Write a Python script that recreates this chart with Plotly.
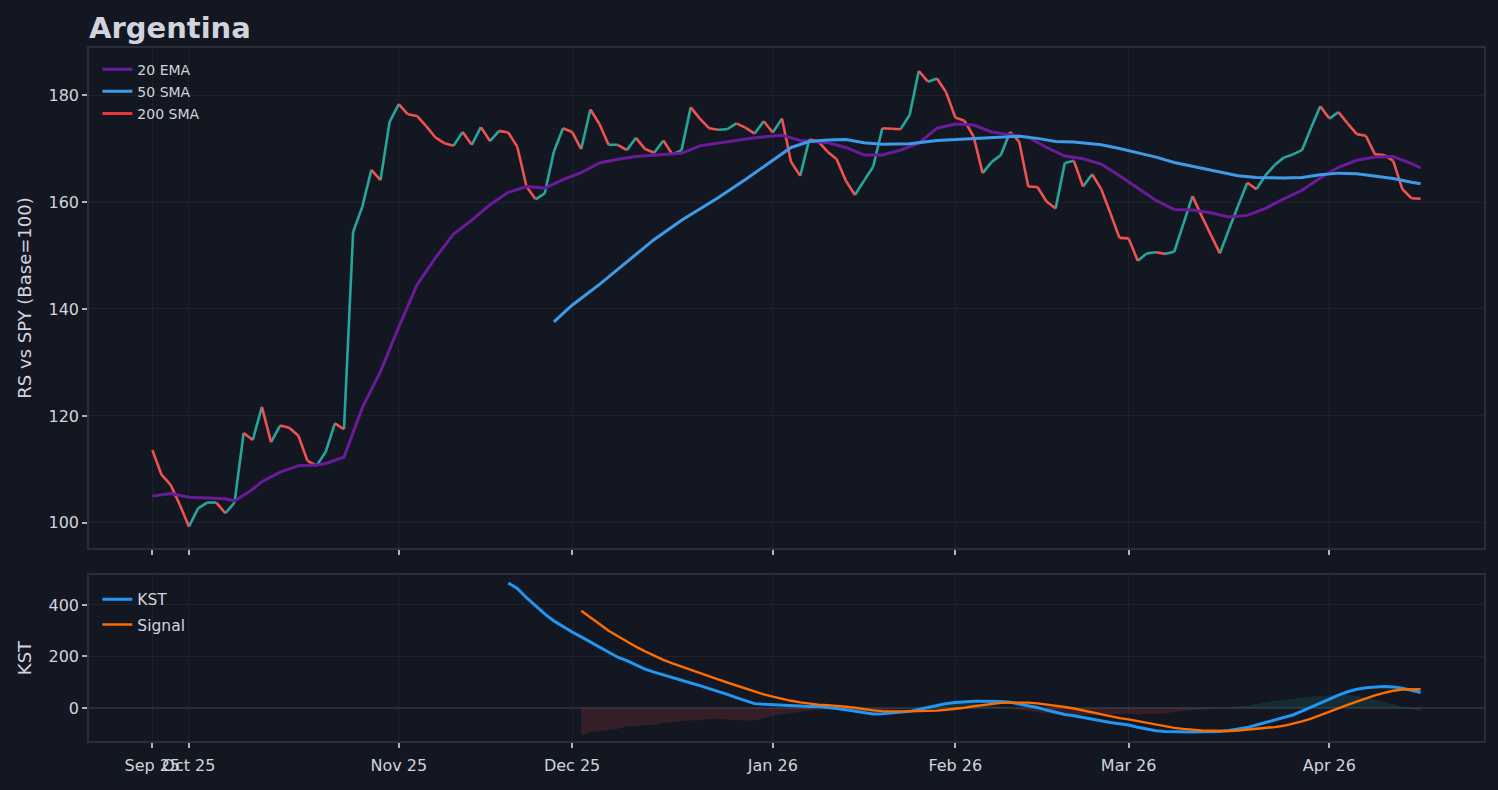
import plotly.graph_objects as go

BG = "#131722"
TEXT = "#d1d4dc"
GRID = "#1e222d"
FRAME = "#2a2e39"
TICK = "#b2b5be"
UP = "#26a69a"
DOWN = "#ef5350"

# trading-day index of each month start, and its label
month_pos = [0, 4, 27, 46, 68, 88, 107, 129]
month_labels = ["Sep 25", "Oct 25", "Nov 25", "Dec 25", "Jan 26", "Feb 26", "Mar 26", "Apr 26"]

# relative strength vs SPY, one value per trading day
price = [
    113.6, 109.0, 107.1, 103.4, 99.3, 102.7, 103.8, 103.8, 101.8, 103.8,
    116.8, 115.5, 121.7, 115.1, 118.2, 117.8, 116.3, 111.6, 110.7, 113.3,
    118.6, 117.5, 154.4, 159.1, 166.0, 164.1, 175.0, 178.3, 176.4, 176.1,
    174.2, 172.1, 171.0, 170.5, 173.1, 170.7, 174.0, 171.4, 173.3, 173.0,
    170.3, 162.9, 160.5, 161.6, 169.4, 173.8, 173.1, 169.9, 177.3, 174.6,
    170.7, 170.7, 169.7, 172.0, 169.9, 169.2, 171.5, 168.9, 169.7, 177.7,
    175.6, 173.8, 173.5, 173.6, 174.7, 173.9, 172.8, 175.1, 173.0, 175.6,
    167.5, 164.9, 171.7, 171.3, 169.4, 168.0, 164.0, 161.3, 164.0, 166.6,
    173.8, 173.7, 173.6, 176.3, 184.5, 182.5, 183.1, 180.5, 175.8, 175.2,
    172.3, 165.4, 167.5, 168.8, 173.1, 171.3, 162.9, 162.8, 160.1, 158.8,
    167.3, 167.7, 162.9, 165.2, 162.4, 157.9, 153.3, 153.2, 149.0, 150.4,
    150.6, 150.3, 150.7, 155.9, 161.1, 157.4, 153.9, 150.4, 154.9, 159.3,
    163.6, 162.4, 165.0, 166.9, 168.3, 168.9, 169.7, 173.9, 177.9, 175.6,
    176.8, 174.7, 172.7, 172.4, 168.9, 168.8, 167.7, 162.4, 160.7, 160.6,
]

ema_idx = [0, 2, 4, 8, 9, 11, 12, 14, 16, 18, 19, 21, 23, 25, 27, 29, 31, 33, 35, 37,
           39, 41, 43, 45, 47, 49, 51, 53, 56, 58, 60, 63, 66, 69, 71, 74, 76, 78, 80, 82,
           84, 86, 88, 90, 92, 94, 96, 98, 100, 102, 104, 106, 108, 110, 112, 114, 116, 118, 120, 122,
           124, 126, 128, 130, 132, 134, 136, 138, 139]
ema = [105.0, 105.5, 104.8, 104.5, 104.1, 106.3, 107.7, 109.5, 110.7, 110.8, 111.1, 112.3, 121.5, 128.3, 136.6, 144.5, 149.5, 154.0, 156.6, 159.5,
       161.8, 162.9, 162.6, 164.2, 165.5, 167.3, 168.0, 168.5, 168.9, 169.1, 170.5, 171.3, 172.0, 172.5, 171.5, 171.1, 170.2, 168.8, 168.8, 169.7,
       171.0, 173.8, 174.6, 174.4, 173.1, 172.6, 172.1, 170.2, 168.6, 168.1, 167.1, 164.9, 162.6, 160.3, 158.6, 158.5, 158.0, 157.2, 157.5, 158.8,
       160.6, 162.2, 164.5, 166.5, 167.8, 168.4, 168.5, 167.2, 166.4]

sma_idx = [44, 46, 49, 52, 55, 58, 60, 62, 65, 68, 70, 72, 74, 76, 78, 80, 83, 86, 89, 92,
           95, 97, 99, 101, 104, 106, 108, 110, 112, 115, 117, 119, 121, 124, 126, 128, 130, 132, 134, 136,
           138, 139]
sma = [137.6, 140.7, 144.6, 148.8, 153.0, 156.6, 158.7, 160.8, 164.2, 167.8, 170.2, 171.3, 171.6, 171.7, 171.1, 170.8, 170.9, 171.5, 171.8, 172.0,
       172.3, 171.9, 171.3, 171.2, 170.7, 170.0, 169.2, 168.4, 167.4, 166.4, 165.6, 164.9, 164.6, 164.5, 164.6, 165.1, 165.4, 165.3, 164.9, 164.4,
       163.7, 163.4]

kst_start = 39
kst = [
    485, 464, 428, 395, 365, 338, 316, 295, 276, 256,
    236, 214, 197, 184, 168, 151, 139, 128, 118, 107,
    97, 87, 76, 66, 53, 40, 28, 17, 15, 13,
    11, 8, 7, 6, 6, 3, -2, -7, -12, -18,
    -23, -22, -19, -16, -13, -6, 2, 10, 17, 21,
    24, 26, 26, 26, 25, 22, 16, 9, 2, -8,
    -17, -25, -30, -37, -43, -50, -56, -61, -66, -75,
    -82, -88, -91, -92, -93, -93, -92, -92, -91, -87,
    -82, -76, -66, -56, -47, -39, -27, -12, 4, 20,
    36, 50, 63, 73, 79, 82, 83, 82, 77, 69,
    60,
]

signal_start = 47
signal = [
    377, 350, 326, 300, 279, 258, 238, 220, 203, 187,
    173, 160, 147, 135, 123, 111, 99, 87, 74, 63,
    53, 44, 35, 28, 22, 17, 13, 11, 9, 5,
    1, -5, -9, -12, -13, -13, -13, -12, -12, -10,
    -7, -4, 1, 7, 12, 17, 20, 21, 21, 21,
    18, 14, 9, 4, -2, -10, -18, -26, -33, -39,
    -44, -51, -58, -65, -71, -77, -81, -85, -87, -88,
    -89, -89, -87, -84, -82, -78, -74, -69, -62, -52,
    -41, -27, -13, -2, 12, 25, 38, 49, 59, 67,
    72, 73, 73,
]

hist_start = 47
hist = [
    -106, -94, -90, -86, -80, -72, -70, -66, -64, -58,
    -53, -50, -48, -45, -44, -43, -45, -47, -48, -48,
    -38, -30, -24, -19, -15, -11, -7, -6, -8, -10,
    -12, -13, -14, -10, -6, -3, 0, 5, 13, 19,
    23, 24, 22, 19, 14, 9, 5, 1, -5, -12,
    -16, -22, -26, -29, -28, -27, -25, -24, -23, -22,
    -22, -24, -24, -23, -20, -15, -12, -8, -5, -4,
    -2, 2, 7, 8, 16, 22, 27, 30, 35, 40,
    45, 47, 49, 52, 51, 48, 41, 33, 24, 15,
    5, -4, -13,
]

# price drawn as up / down coloured segments
up_x, up_y, dn_x, dn_y = [], [], [], []
for i in range(len(price) - 1):
    seg_x = [i, i + 1, None]
    seg_y = [price[i], price[i + 1], None]
    if price[i + 1] >= price[i]:
        up_x += seg_x
        up_y += seg_y
    else:
        dn_x += seg_x
        dn_y += seg_y

kst_x = list(range(kst_start, kst_start + len(kst)))
sig_x = list(range(signal_start, signal_start + len(signal)))
hist_x = list(range(hist_start, hist_start + len(hist)))
hist_pos = [max(v, 0) for v in hist]
hist_neg = [min(v, 0) for v in hist]

fig = go.Figure()

fig.add_trace(go.Scatter(x=up_x, y=up_y, mode="lines", line=dict(color=UP, width=2.6),
                         showlegend=False, xaxis="x", yaxis="y"))
fig.add_trace(go.Scatter(x=dn_x, y=dn_y, mode="lines", line=dict(color=DOWN, width=2.6),
                         showlegend=False, xaxis="x", yaxis="y"))
fig.add_trace(go.Scatter(x=ema_idx, y=ema, mode="lines", name="20 EMA", line=dict(color="#6a1b9a", width=3),
                         legend="legend", legendgroup="a", xaxis="x", yaxis="y"))
fig.add_trace(go.Scatter(x=sma_idx, y=sma, mode="lines", name="50 SMA", line=dict(color="#3d9be9", width=3),
                         legend="legend", legendgroup="b", xaxis="x", yaxis="y"))
fig.add_trace(go.Scatter(x=[None], y=[None], mode="lines", name="200 SMA", line=dict(color="#e53935", width=3),
                         legend="legend", legendgroup="c", xaxis="x", yaxis="y"))

fig.add_trace(go.Scatter(x=hist_x, y=hist_neg, mode="lines", fill="tozeroy", line=dict(width=0),
                         fillcolor="rgba(239,83,80,0.15)", showlegend=False, xaxis="x2", yaxis="y2"))
fig.add_trace(go.Scatter(x=hist_x, y=hist_pos, mode="lines", fill="tozeroy", line=dict(width=0),
                         fillcolor="rgba(38,166,154,0.15)", showlegend=False, xaxis="x2", yaxis="y2"))
fig.add_trace(go.Scatter(x=kst_x, y=kst, mode="lines", name="KST", line=dict(color="#2196f3", width=3),
                         legend="legend2", legendgroup="d", xaxis="x2", yaxis="y2"))
fig.add_trace(go.Scatter(x=sig_x, y=signal, mode="lines", name="Signal", line=dict(color="#ff6d00", width=2.4),
                         legend="legend2", legendgroup="e", xaxis="x2", yaxis="y2"))

axis_common = dict(
    showline=True, mirror=True, linecolor=FRAME, linewidth=1.5,
    showgrid=True, gridcolor=GRID, gridwidth=1,
    ticks="outside", ticklen=5, tickwidth=1.5, tickcolor=TICK,
    tickfont=dict(size=16, color=TEXT), zeroline=False, tickangle=0,
)
x_range = [-6.95, 145.95]

fig.update_layout(
    width=1498, height=790,
    paper_bgcolor=BG, plot_bgcolor=BG,
    font=dict(family="DejaVu Sans", color=TEXT),
    margin=dict(l=89, r=14, t=48, b=49),
    title=dict(text="<b>Argentina</b>", x=0, xref="paper", xanchor="left",
               y=1 - 28 / 790, yref="container", yanchor="middle",
               font=dict(size=29, color=TEXT)),
    xaxis=dict(axis_common, domain=[0, 1], anchor="y", range=x_range,
               tickvals=month_pos, ticktext=month_labels, showticklabels=False, matches="x2"),
    yaxis=dict(axis_common, domain=[0.2785, 1], anchor="x", range=[95.3, 188.8],
               tickvals=[100, 120, 140, 160, 180],
               title=dict(text="RS vs SPY (Base=100)", font=dict(size=18, color=TEXT), standoff=12)),
    xaxis2=dict(axis_common, domain=[0, 1], anchor="y2", range=x_range,
                tickvals=month_pos, ticktext=month_labels, ticklabelstandoff=4),
    yaxis2=dict(axis_common, domain=[0, 0.2395], anchor="x2", range=[-128, 516],
                tickvals=[0, 200, 400], zeroline=True, zerolinecolor=FRAME, zerolinewidth=2,
                title=dict(text="KST", font=dict(size=18, color=TEXT), standoff=12)),
    legend=dict(x=0.006, y=0.992, xanchor="left", yanchor="top", bgcolor="rgba(0,0,0,0)",
                font=dict(size=14, color=TEXT), tracegroupgap=1),
    legend2=dict(x=0.006, y=0.2283, xanchor="left", yanchor="top", bgcolor="rgba(0,0,0,0)",
                 font=dict(size=15.5, color=TEXT), tracegroupgap=2),
)

fig.write_html(
    "out.html",
    config={"displayModeBar": False},
    post_script="document.body.style.margin='0';document.body.style.background='" + BG + "';",
)
